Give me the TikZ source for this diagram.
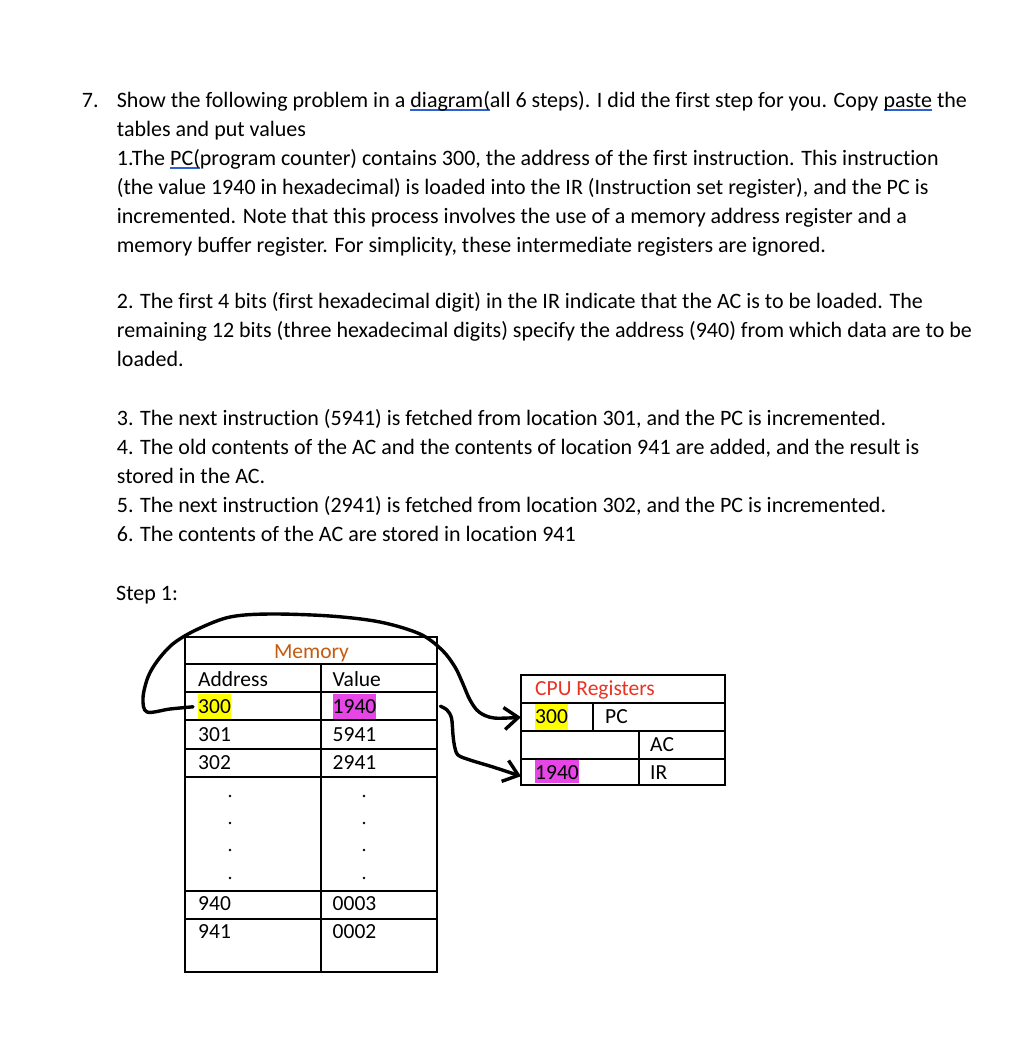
\documentclass[tikz,border=0pt]{standalone}
\usepackage{fontspec}
\setmainfont[Ligatures=NoCommon]{Carlito}
\usetikzlibrary{arrows.meta}
\definecolor{memorange}{HTML}{C55A11}
\definecolor{cpured}{HTML}{E93323}
\definecolor{hlyellow}{HTML}{FFFF00}
\definecolor{hlpink}{HTML}{E646E6}
\definecolor{splblue}{HTML}{2F5FD0}
\newcommand\splund[1]{\setbox0\hbox{#1}\rlap{\textcolor{splblue}{\rule[-4pt]{\wd0}{2.5pt}}}#1}
\begin{document}
\begin{tikzpicture}[x=1pt,y=-1pt,
  txt/.style={anchor=base west, inner sep=0pt, font=\fontsize{22}{29}\selectfont},
  ttxt/.style={anchor=base west, inner sep=0pt, font=\fontsize{21.5}{26}\selectfont},
  hlbox/.style={text height=19pt, text depth=6pt},
  gridline/.style={line width=2pt},
  rowbox/.style={inner sep=0pt, anchor=north west},
  hand/.style={line width=3.4pt, line cap=round, line join=round, -{Straight Barb[length=14pt,width=22pt]}}
]
\useasboundingbox (0,0) rectangle (1024,1042);
\fill[white] (0,0) rectangle (1024,1042);

% ---- question text ----
\node[txt] (num) at (81.7,107) {7.};
\node[txt] (l1) at (116.7,107) {Show the following problem in a \splund{diagram(}all 6 steps). I did the first step for you. Copy \splund{paste} the};
\node[txt] (l2) at (116.7,136) {tables and put values};
\node[txt] (l3) at (116.7,165) {1.The \splund{PC(}program counter) contains 300, the address of the first instruction. This instruction};
\node[txt] (l4) at (116.7,194) {(the value 1940 in hexadecimal) is loaded into the IR (Instruction set register), and the PC is};
\node[txt] (l5) at (116.7,223) {incremented. Note that this process involves the use of a memory address register and a};
\node[txt] (l6) at (116.7,252) {memory buffer register. For simplicity, these intermediate registers are ignored.};

\node[txt] (p1) at (116.7,308) {2. The first 4 bits (first hexadecimal digit) in the IR indicate that the AC is to be loaded. The};
\node[txt] (p2) at (116.7,337) {remaining 12 bits (three hexadecimal digits) specify the address (940) from which data are to be};
\node[txt] (p3) at (116.7,366) {loaded.};

\node[txt] (q1) at (116.7,425) {3. The next instruction (5941) is fetched from location 301, and the PC is incremented.};
\node[txt] (q2) at (116.7,454) {4. The old contents of the AC and the contents of location 941 are added, and the result is};
\node[txt] (q3) at (116.7,483) {stored in the AC.};
\node[txt] (q4) at (116.7,512) {5. The next instruction (2941) is fetched from location 302, and the PC is incremented.};
\node[txt] (q5) at (116.7,541) {6. The contents of the AC are stored in location 941};

\node[txt] (step) at (116,600) {Step 1:};

% ---- memory table ----
\draw[gridline] (185,637) rectangle (437,972);
\foreach \yy in {664,692,720,748.5,776.5,891,919}
  \draw[gridline] (185,\yy) -- (437,\yy);
\draw[gridline] (321,664) -- (321,972);
\node[rowbox, minimum width=116pt, minimum height=28pt] (m1940cell) at (321,692) {};

\node[ttxt, text=memorange, anchor=base] (memt) at (311.5,658.5) {Memory};
\node[ttxt] (addr) at (198,686) {Address};
\node[ttxt] (val) at (332.5,686) {Value};
\node[ttxt, hlbox, fill=hlyellow] (a300) at (198,713.3) {300};
\node[ttxt, hlbox, fill=hlpink] (v1940) at (332.5,713.3) {1940};
\node[ttxt] (a301) at (198,741.5) {301};
\node[ttxt] (v5941) at (332.5,741.5) {5941};
\node[ttxt] (a302) at (198,769.3) {302};
\node[ttxt] (v2941) at (332.5,769.3) {2941};
\foreach \yy in {796,823,850,878}{
  \fill (230,\yy) circle (1.3pt);
  \fill (364,\yy) circle (1.3pt);
}
\node[ttxt] (a940) at (198,910.7) {940};
\node[ttxt] (v0003) at (332.5,910.7) {0003};
\node[ttxt] (a941) at (198,938.3) {941};
\node[ttxt] (v0002) at (332.5,938.3) {0002};

% ---- CPU registers ----
\draw[gridline] (521,675) rectangle (725,785);
\foreach \yy in {703,731,759}
  \draw[gridline] (521,\yy) -- (725,\yy);
\draw[gridline] (592.7,703) -- (592.7,731);
\draw[gridline] (639,731) -- (639,785);
\node[rowbox, minimum width=204pt, minimum height=28pt] (pcrow) at (521,703) {};
\node[rowbox, minimum width=204pt, minimum height=26pt] (irrow) at (521,759) {};

\node[ttxt, text=cpured] (cput) at (535,695) {CPU Registers};
\node[ttxt, fill=hlyellow, text height=19.3pt, text depth=6.7pt] (pcv) at (535,723.3) {300};
\node[ttxt] (pcl) at (605,723.3) {PC};
\node[ttxt] (acl) at (650,751.7) {AC};
\node[ttxt, fill=hlpink, text height=19.3pt, text depth=4pt] (irv) at (535,779.3) {1940};
\node[ttxt] (irl) at (650,779.3) {IR};

% ---- hand-drawn arrows ----
\coordinate (loopstart) at ([xshift=-5pt]a300.west);
\draw[hand] plot[smooth, tension=0.55] coordinates {(loopstart) (170,709) (147,712) (143,698) (148,677) (158,660) (174,643) (198,629) (230,617) (270,614) (330,616) (380,622) (420,634) (442,650) (455,667) (463,684) (470,700) (479,712) (494,718) (pcrow.west)};
\coordinate (irstart) at ([xshift=3pt]m1940cell.east);
\draw[hand] plot[smooth, tension=0.55] coordinates {(irstart) (447,710) (451.5,718) (453,735) (454.5,746) (458,755) (470,760) (493,767) ([yshift=-4pt]irrow.west)};
\end{tikzpicture}
\end{document}
